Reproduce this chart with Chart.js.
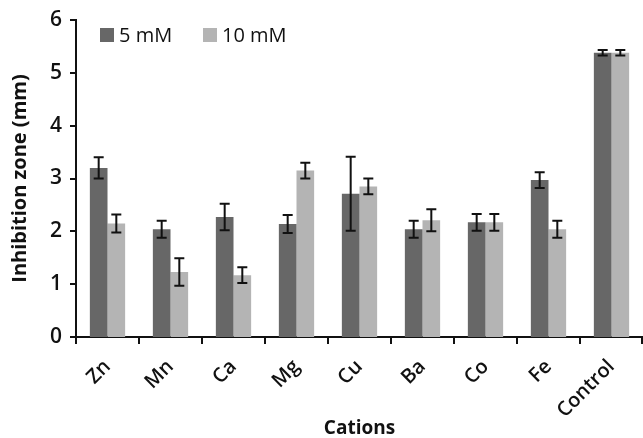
<!DOCTYPE html>
<html>
<head>
<meta charset="utf-8">
<script src="https://cdn.jsdelivr.net/npm/chart.js@4/dist/chart.umd.min.js"></script>
<style>
  html, body { margin: 0; padding: 0; background: #ffffff; }
  #wrap { width: 643px; height: 438px; position: relative; }
</style>
</head>
<body>
<div id="wrap"><canvas id="c" width="643" height="438"></canvas></div>
<script>
const categories = ["Zn", "Mn", "Ca", "Mg", "Cu", "Ba", "Co", "Fe", "Control"];
const seriesNames = ["5 mM", "10 mM"];
const values5mM  = [3.20, 2.04, 2.27, 2.14, 2.71, 2.04, 2.17, 2.97, 5.38];
const errors5mM  = [0.20, 0.16, 0.25, 0.17, 0.70, 0.16, 0.16, 0.15, 0.05];
const values10mM = [2.15, 1.23, 1.17, 3.15, 2.85, 2.21, 2.17, 2.04, 5.38];
const errors10mM = [0.17, 0.26, 0.15, 0.15, 0.15, 0.21, 0.16, 0.16, 0.05];
const yTicks = [0, 1, 2, 3, 4, 5, 6];
const xTitle = "Cations";
const yTitle = "Inhibition zone (mm)";

const FONT = "'Open Sans', 'DejaVu Sans', sans-serif";
const DARK = "#676767";
const LIGHT = "#b4b4b4";
const INK = "#111111";

const errorBarPlugin = {
  id: 'errorBars',
  afterDatasetsDraw(chart) {
    const ctx = chart.ctx;
    const yScale = chart.scales.y;
    chart.data.datasets.forEach((ds, di) => {
      const meta = chart.getDatasetMeta(di);
      meta.data.forEach((bar, i) => {
        const v = ds.data[i];
        const e = ds.errors[i];
        const x = bar.x;
        const yTop = yScale.getPixelForValue(v + e);
        const yBot = yScale.getPixelForValue(v - e);
        ctx.save();
        ctx.strokeStyle = INK;
        ctx.lineWidth = 2;
        ctx.beginPath();
        ctx.moveTo(x, yTop); ctx.lineTo(x, yBot);
        ctx.moveTo(x - 5, yTop); ctx.lineTo(x + 5, yTop);
        ctx.moveTo(x - 5, yBot); ctx.lineTo(x + 5, yBot);
        ctx.stroke();
        ctx.restore();
      });
    });
  }
};

const axisTickPlugin = {
  id: 'axisTicks',
  afterDraw(chart) {
    const ctx = chart.ctx;
    const xs = chart.scales.x, ys = chart.scales.y;
    const area = chart.chartArea;
    ctx.save();
    ctx.strokeStyle = INK;
    ctx.lineWidth = 2;
    ctx.beginPath();
    yTicks.forEach(v => {
      const py = Math.round(ys.getPixelForValue(v));
      ctx.moveTo(area.left - 6, py);
      ctx.lineTo(area.left, py);
    });
    const step = xs.getPixelForValue(1) - xs.getPixelForValue(0);
    for (let i = 0; i <= categories.length; i++) {
      let px = xs.getPixelForValue(0) - step / 2 + i * step;
      px = Math.min(px, chart.width - 1);
      ctx.moveTo(px, area.bottom);
      ctx.lineTo(px, area.bottom + 7);
    }
    ctx.stroke();
    ctx.restore();
  }
};

const legendPlugin = {
  id: 'insideLegend',
  afterDraw(chart) {
    const ctx = chart.ctx;
    const positions = [100, 203];
    const yMid = 35;
    ctx.save();
    ctx.font = "500 20px " + FONT;
    ctx.textBaseline = "middle";
    ctx.textAlign = "left";
    chart.data.datasets.forEach((ds, di) => {
      const x = positions[di];
      ctx.fillStyle = ds.backgroundColor;
      ctx.fillRect(x, yMid - 7, 14, 14);
      ctx.fillStyle = INK;
      ctx.fillText(ds.label, x + 19, yMid + 1);
    });
    ctx.restore();
  }
};

new Chart(document.getElementById('c'), {
  type: 'bar',
  data: {
    labels: categories,
    datasets: [
      { label: seriesNames[0], data: values5mM, errors: errors5mM, backgroundColor: DARK },
      { label: seriesNames[1], data: values10mM, errors: errors10mM, backgroundColor: LIGHT }
    ]
  },
  options: {
    responsive: false,
    animation: false,
    devicePixelRatio: 1,
    categoryPercentage: 0.56,
    barPercentage: 1.0,
    layout: { padding: { top: 20, right: 0, left: 0, bottom: 0 } },
    plugins: {
      legend: { display: false },
      tooltip: { enabled: false }
    },
    scales: {
      x: {
        offset: true,
        grid: { display: false, drawTicks: true, tickLength: 8 },
        border: { display: true, color: INK, width: 2 },
        ticks: {
          color: INK,
          font: { family: FONT, size: 20, weight: '600' },
          maxRotation: 45,
          minRotation: 45,
          padding: 10
        },
        title: {
          display: true,
          text: xTitle,
          color: INK,
          font: { family: FONT, size: 19, weight: 'bold' },
          padding: { top: 0, bottom: -2 }
        },
        afterFit(scale) { scale.height = 101; }
      },
      y: {
        min: 0,
        max: 6,
        afterBuildTicks(scale) { scale.ticks = yTicks.map(v => ({ value: v })); },
        grid: { display: false, drawTicks: true, tickLength: 10 },
        border: { display: true, color: INK, width: 2 },
        ticks: {
          color: INK,
          font: { family: FONT, size: 21, weight: '600' },
          padding: 4
        },
        title: {
          display: true,
          text: yTitle,
          color: INK,
          font: { family: FONT, size: 20, weight: 'bold' },
          padding: { top: 8, bottom: 0 }
        },
        afterFit(scale) { scale.width = 76; }
      }
    }
  },
  plugins: [errorBarPlugin, axisTickPlugin, legendPlugin]
});
</script>
</body>
</html>
